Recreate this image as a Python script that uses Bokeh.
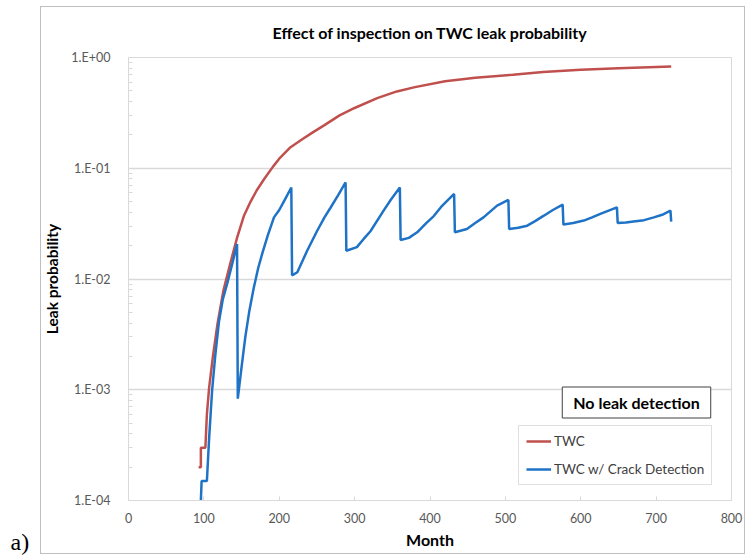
from bokeh.plotting import figure
from bokeh.models import (Range1d, FixedTicker, CustomJSTickFormatter, Legend, LegendItem, Label)
from bokeh.embed import file_html
from bokeh.resources import INLINE

# ---------------- data ----------------
title_text = "Effect of inspection on TWC leak probability"
x_label = "Month"
y_label = "Leak probability"
series_names = ["TWC", "TWC w/ Crack Detection"]
note_text = "No leak detection"
panel_tag = "a)"

x_ticks = [0, 100, 200, 300, 400, 500, 600, 700, 800]
y_ticks = [1e-4, 1e-3, 1e-2, 1e-1, 1e0]

twc_month = [93, 96, 96, 102, 104, 107, 112, 118, 126, 135, 144, 153, 162, 170, 180,
             192, 200, 215, 230, 245, 260, 280, 300, 330, 356, 380, 420, 460, 510,
             550, 600, 650, 720]
twc_prob = [2.0e-4, 2.0e-4, 3.0e-4, 3.0e-4, 6.0e-4, 1.05e-3, 2.0e-3, 3.9e-3, 7.9e-3,
            0.0138, 0.0235, 0.037, 0.050, 0.063, 0.080, 0.104, 0.122, 0.155, 0.182,
            0.212, 0.245, 0.300, 0.350, 0.430, 0.494, 0.540, 0.610, 0.655, 0.700,
            0.740, 0.775, 0.800, 0.830]

crack_month = [96, 97, 104, 107, 111, 115, 120, 125, 131, 138, 144,
               145, 150, 155, 160, 166, 172, 178, 185, 193, 200, 208, 216,
               217, 224, 237, 250, 260, 268, 278, 288,
               289, 303, 312, 321, 338, 348, 360,
               361, 372, 383, 395, 405, 415, 423, 432,
               433, 449, 460, 471, 489, 504,
               505, 517, 529, 540, 551, 563, 576,
               577, 590, 604, 615, 626, 637, 648,
               649, 660, 670, 684, 697, 708, 719, 720]
crack_prob = [1.0e-4, 1.5e-4, 1.5e-4, 3.7e-4, 1.0e-3, 2.0e-3, 4.1e-3, 6.5e-3, 9.1e-3, 0.0140, 0.0207,
              8.3e-4, 1.6e-3, 3.0e-3, 5.0e-3, 8.2e-3, 0.0125, 0.0175, 0.025, 0.036, 0.042, 0.053, 0.067,
              0.0108, 0.0115, 0.018, 0.027, 0.036, 0.044, 0.057, 0.0745,
              0.018, 0.0194, 0.023, 0.027, 0.041, 0.052, 0.067,
              0.0225, 0.0235, 0.0264, 0.032, 0.037, 0.045, 0.051, 0.0586,
              0.0264, 0.0283, 0.032, 0.036, 0.046, 0.0517,
              0.0283, 0.029, 0.0303, 0.0335, 0.0373, 0.042, 0.0469,
              0.031, 0.032, 0.0337, 0.036, 0.0387, 0.0415, 0.0444,
              0.0321, 0.0323, 0.033, 0.034, 0.036, 0.038, 0.0414, 0.033]

# ---------------- styling ----------------
FONT = "Lato"
RED = "#C0504D"
BLUE = "#1F73C6"
GRID = "#D9D9D9"
TICK_TXT = "#595959"

W, H = 745, 556
FRAME_L, FRAME_R, FRAME_T, FRAME_B = 128, 731, 57, 500   # page pixels


def dx(px):
    return (px - FRAME_L) / (FRAME_R - FRAME_L) * 800


def dy(py):
    return 10 ** (-4 + (FRAME_B - py) / ((FRAME_B - FRAME_T) / 4))


# light-grey border round the whole chart area (as in the reference)
outer_css = """
:host { position: relative; }
:host::after {
  content: "";
  position: absolute;
  left: 40px; top: 6px; width: 705px; height: 548px;
  box-sizing: border-box;
  border: 1px solid #BFBFBF;
  pointer-events: none;
}
"""

p = figure(width=W, height=H, x_range=Range1d(0, 800), y_range=Range1d(1e-4, 1),
           y_axis_type="log", output_backend="svg", toolbar_location=None,
           min_border_left=FRAME_L, min_border_right=W - FRAME_R,
           min_border_top=FRAME_T, min_border_bottom=H - FRAME_B,
           background_fill_color="white", border_fill_color="white",
           stylesheets=[outer_css])

p.title.text = title_text
p.title.align = "center"
p.title.text_font = FONT
p.title.text_font_size = "16px"
p.title.text_font_style = "bold"
p.title.text_color = "#000000"
p.title.standoff = 32

p.outline_line_color = GRID
p.outline_line_width = 1

# x axis
xa = p.xaxis[0]
xa.ticker = FixedTicker(ticks=x_ticks)
xa.axis_label = x_label
xa.axis_label_text_font = FONT
xa.axis_label_text_font_size = "16px"
xa.axis_label_text_font_style = "bold"
xa.axis_label_text_color = "#000000"
xa.axis_label_standoff = 4
xa.major_label_text_font = FONT
xa.major_label_text_font_size = "12.5px"
xa.major_label_text_color = TICK_TXT
xa.major_label_standoff = 12
xa.major_tick_in = 4
xa.major_tick_out = 0
xa.minor_tick_line_color = None
xa.axis_line_color = GRID
xa.major_tick_line_color = GRID

# y axis
minor = [m * d for d in y_ticks[:-1] for m in range(2, 10)]
ya = p.yaxis[0]
ya.ticker = FixedTicker(ticks=y_ticks, minor_ticks=minor)
ya.formatter = CustomJSTickFormatter(code="""
    const e = Math.round(Math.log10(tick));
    const s = e < 0 ? '-' : '+';
    const a = Math.abs(e);
    return '1.E' + s + (a < 10 ? '0' : '') + a;
""")
ya.axis_label = y_label
ya.axis_label_text_font = FONT
ya.axis_label_text_font_size = "15.5px"
ya.axis_label_text_font_style = "bold"
ya.axis_label_text_color = "#000000"
ya.axis_label_standoff = 7
ya.major_label_text_font = FONT
ya.major_label_text_font_size = "12.5px"
ya.major_label_text_color = TICK_TXT
ya.major_label_standoff = 18
ya.major_tick_in = 5
ya.major_tick_out = 0
ya.minor_tick_in = 4
ya.minor_tick_out = 0
ya.axis_line_color = GRID
ya.major_tick_line_color = GRID
ya.minor_tick_line_color = GRID

p.xgrid.grid_line_color = None
p.ygrid.grid_line_color = GRID
p.ygrid.grid_line_width = 1.5
p.ygrid.ticker = FixedTicker(ticks=y_ticks)

r1 = p.line(twc_month, twc_prob, line_color=RED, line_width=2.5)
r2 = p.line(crack_month, crack_prob, line_color=BLUE, line_width=2.5)

legend = Legend(items=[LegendItem(label=series_names[0], renderers=[r1]),
                       LegendItem(label=series_names[1], renderers=[r2])],
                location=(390, 15), margin=0, padding=7, spacing=12,
                glyph_width=25, glyph_height=16, label_height=16, label_standoff=3,
                label_text_font=FONT, label_text_font_size="13.5px", label_text_color="#404040",
                border_line_color="#BFBFBF", border_line_width=1,
                background_fill_color="white", background_fill_alpha=1)
p.add_layout(legend)

note = Label(x=dx(636), y=dy(402), text=note_text, text_align="center", text_baseline="middle",
             text_font=FONT, text_font_size="16px", text_font_style="bold", text_color="#000000",
             border_line_color="#404040", border_line_width=1, background_fill_color="white",
             padding=(11, 6))
p.add_layout(note)

tag = Label(x=-11, y=-41, x_units="screen", y_units="screen", text=panel_tag,
            text_align="left", text_baseline="alphabetic",
            text_font="Liberation Serif", text_font_size="24px", text_color="#000000")
p.add_layout(tag, "left")

open("out.html", "w").write(file_html(p, INLINE))
